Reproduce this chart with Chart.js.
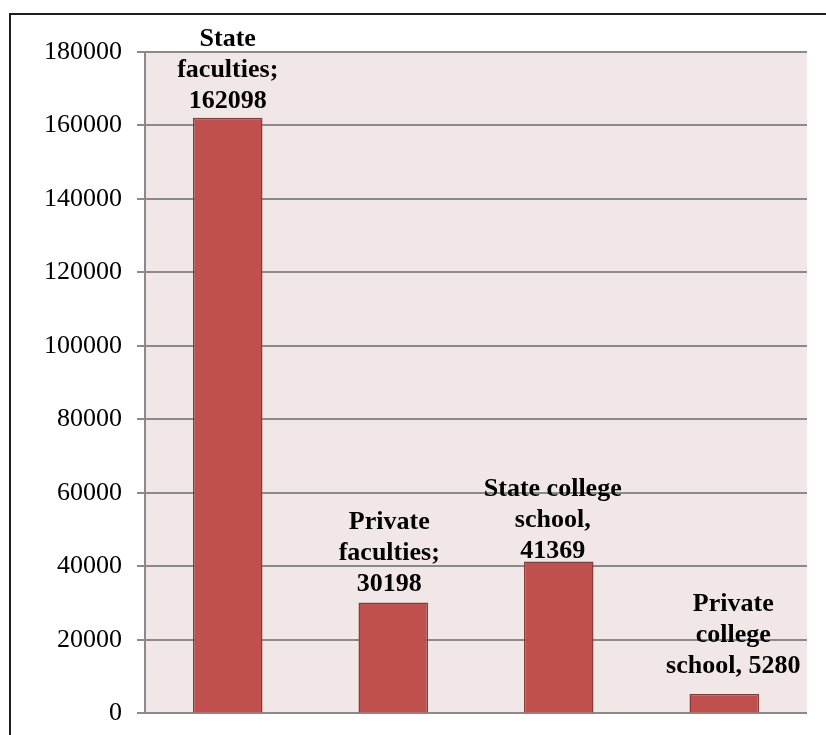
<!DOCTYPE html>
<html>
<head>
<meta charset="utf-8">
<script src="https://cdn.jsdelivr.net/npm/chart.js@4.4.1/dist/chart.umd.min.js"></script>
<style>
    html, body { margin: 0; padding: 0; background: #fff; overflow: hidden; }
    #wrap { position: relative; width: 826px; height: 735px; overflow: hidden; }
    #frame {
        position: absolute; left: 9px; top: 13px; right: 0; bottom: 0;
        border-top: 2px solid #1e1e1e; border-left: 2px solid #1e1e1e;
    }
    #chart { position: absolute; left: 0; top: 0; }
</style>
</head>
<body>
<div id="wrap">
    <div id="frame"></div>
    <canvas id="chart" width="826" height="744"></canvas>
</div>
<script>
// 学校種別ごとの人数
const categories = ['State faculties', 'Private faculties', 'State college school', 'Private college school'];
const values = [162098, 30198, 41369, 5280];
// ラベルの行（{v} に値が入る）
const labelLines = [
    ['State', 'faculties;', '{v}'],
    ['Private', 'faculties;', '{v}'],
    ['State college', 'school,', '{v}'],
    ['Private', 'college', 'school, {v}']
];
const yTicks = [0, 20000, 40000, 60000, 80000, 100000, 120000, 140000, 160000, 180000];

// プロットエリアの背景
const plotBackground = {
    id: 'plotBackground',
    beforeDraw(chart) {
        const {ctx, chartArea: a} = chart;
        ctx.save();
        ctx.fillStyle = '#F2E7E7';
        ctx.fillRect(a.left, a.top, a.right - a.left, a.bottom - a.top);
        ctx.restore();
    }
};

// バーの上に複数行のデータラベルを描く
const labelNudge = [
    {dx: 0, gap: 10},
    {dx: -4, gap: 11},
    {dx: -6, gap: 3},
    {dx: 9, gap: 21}
];
const barLabels = {
    id: 'barLabels',
    afterDatasetsDraw(chart) {
        const ctx = chart.ctx;
        const meta = chart.getDatasetMeta(0);
        ctx.save();
        ctx.font = 'bold 26px "Liberation Serif", "Times New Roman", serif';
        ctx.fillStyle = '#000';
        ctx.textAlign = 'center';
        ctx.textBaseline = 'alphabetic';
        meta.data.forEach((bar, i) => {
            const lines = labelLines[i].map(s => s.replace('{v}', values[i]));
            const x = bar.x + labelNudge[i].dx;
            let y = bar.y - labelNudge[i].gap;
            for (let j = lines.length - 1; j >= 0; j--) {
                ctx.fillText(lines[j], x, y);
                y -= 31;
            }
        });
        ctx.restore();
    }
};

const ctx = document.getElementById('chart').getContext('2d');
new Chart(ctx, {
    type: 'bar',
    data: {
        labels: categories,
        datasets: [{
            data: values,
            backgroundColor: '#C0504D',
            borderColor: '#8C3A38',
            borderWidth: 1.5,
            borderSkipped: 'bottom',
            categoryPercentage: 1.0,
            barPercentage: 0.42
        }]
    },
    options: {
        responsive: false,
        animation: false,
        layout: { padding: { left: 0, top: 52, right: 19, bottom: 14 } },
        plugins: {
            legend: { display: false },
            tooltip: { enabled: false }
        },
        scales: {
            x: { display: false },
            y: {
                min: 0,
                max: 180000,
                afterBuildTicks(scale) {
                    scale.ticks = yTicks.map(v => ({value: v}));
                },
                afterFit(scale) {
                    scale.width = 145;
                },
                border: { display: true, color: '#8a8a8a', width: 2 },
                grid: {
                    color: '#8a8a8a',
                    lineWidth: 2,
                    tickLength: 8,
                    drawTicks: true
                },
                ticks: {
                    padding: 15,
                    color: '#000',
                    font: { family: '"Liberation Serif", "Times New Roman", serif', size: 26 },
                    callback: v => String(v)
                }
            }
        }
    },
    plugins: [plotBackground, barLabels]
});
</script>
</body>
</html>
